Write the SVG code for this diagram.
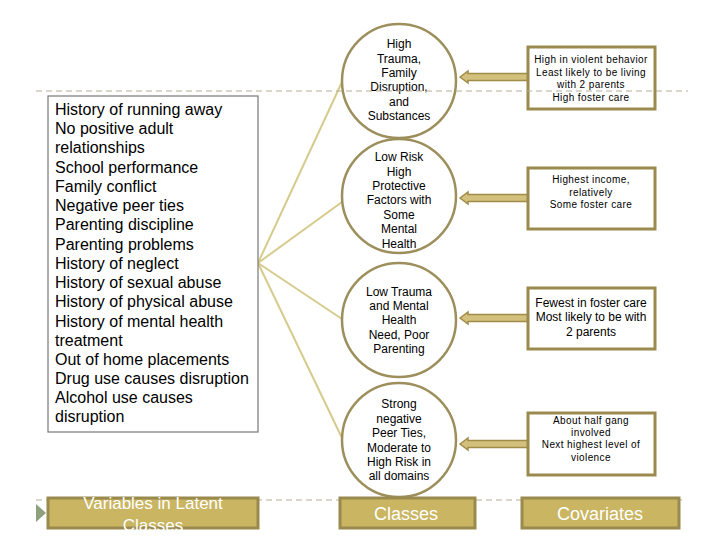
<svg xmlns="http://www.w3.org/2000/svg" width="720" height="540" viewBox="0 0 720 540">
<style>
text{font-family:"Liberation Sans",Arial,sans-serif;}
.dash{stroke:#B5AE98;stroke-width:1.2;stroke-dasharray:6 4;fill:none}
.circ{fill:#fff;stroke:#9C8F5C;stroke-width:2.5}
.ct{font-size:12px;fill:#000;text-anchor:middle}
.box{fill:#fff;stroke:#9B8A4E;stroke-width:3}
.bt{font-size:10px;fill:#000;text-anchor:middle;letter-spacing:0.4px}
.bt12{font-size:12px;fill:#000;text-anchor:middle}
.conn{stroke:#D6CB8C;stroke-width:2;fill:none}
.arr{fill:#D2C07C;stroke:#A08C48;stroke-width:1.5}
.btn{fill:#C9B562;stroke:#9A8A4E;stroke-width:3}
.btnt{font-size:18px;fill:#fff;text-anchor:middle}
.btnt2{font-size:17px;fill:#fff;text-anchor:middle}
.lt{font-size:16px;fill:#000}
</style>
<rect width="720" height="540" fill="#fff"/>
<line class="dash" x1="36" y1="500" x2="686" y2="500"/>

<g id="connectors">
<line class="conn" x1="258" y1="263" x2="342" y2="82"/>
<line class="conn" x1="258" y1="263" x2="342" y2="202"/>
<line class="conn" x1="258" y1="263" x2="342" y2="319"/>
<line class="conn" x1="258" y1="263" x2="342" y2="438"/>
<polygon class="arr" points="460,77 468,71 468,73.5 528,73.5 528,80.5 468,80.5 468,83"/>
<polygon class="arr" points="460,198 468,192 468,194.5 528,194.5 528,201.5 468,201.5 468,204"/>
<polygon class="arr" points="460,318 468,312 468,314.5 528,314.5 528,321.5 468,321.5 468,324"/>
<polygon class="arr" points="460,444 468,438 468,440.5 528,440.5 528,447.5 468,447.5 468,450"/>
</g>

<g id="variables">
<rect x="48" y="96" width="210" height="336" fill="#fff" stroke="#777" stroke-width="1.2"/>
<text class="lt" x="55" y="115">History of running away</text>
<text class="lt" x="55" y="134">No positive adult</text>
<text class="lt" x="55" y="153">relationships</text>
<text class="lt" x="55" y="173">School performance</text>
<text class="lt" x="55" y="192">Family conflict</text>
<text class="lt" x="55" y="211">Negative peer ties</text>
<text class="lt" x="55" y="230">Parenting discipline</text>
<text class="lt" x="55" y="250">Parenting problems</text>
<text class="lt" x="55" y="269">History of neglect</text>
<text class="lt" x="55" y="288">History of sexual abuse</text>
<text class="lt" x="55" y="307">History of physical abuse</text>
<text class="lt" x="55" y="327">History of mental health</text>
<text class="lt" x="55" y="346">treatment</text>
<text class="lt" x="55" y="365">Out of home placements</text>
<text class="lt" x="55" y="384">Drug use causes disruption</text>
<text class="lt" x="55" y="403">Alcohol use causes</text>
<text class="lt" x="55" y="422">disruption</text>
</g>

<g id="class1">
<circle class="circ" cx="399" cy="81" r="57"/>
<text class="ct" x="399" y="48">High</text>
<text class="ct" x="399" y="63">Trauma,</text>
<text class="ct" x="399" y="77">Family</text>
<text class="ct" x="399" y="91">Disruption,</text>
<text class="ct" x="399" y="106">and</text>
<text class="ct" x="399" y="120">Substances</text>
</g>
<g id="class2">
<circle class="circ" cx="399" cy="196" r="57"/>
<text class="ct" x="399" y="161">Low Risk</text>
<text class="ct" x="399" y="176">High</text>
<text class="ct" x="399" y="190">Protective</text>
<text class="ct" x="399" y="204">Factors with</text>
<text class="ct" x="399" y="219">Some</text>
<text class="ct" x="399" y="233">Mental</text>
<text class="ct" x="399" y="248">Health</text>
</g>
<g id="class3">
<circle class="circ" cx="399" cy="320" r="57"/>
<text class="ct" x="399" y="296">Low Trauma</text>
<text class="ct" x="399" y="310">and Mental</text>
<text class="ct" x="399" y="324">Health</text>
<text class="ct" x="399" y="339">Need, Poor</text>
<text class="ct" x="399" y="353">Parenting</text>
</g>
<g id="class4">
<circle class="circ" cx="399" cy="440" r="57"/>
<text class="ct" x="399" y="408">Strong</text>
<text class="ct" x="399" y="423">negative</text>
<text class="ct" x="399" y="437">Peer Ties,</text>
<text class="ct" x="399" y="452">Moderate to</text>
<text class="ct" x="399" y="466">High Risk in</text>
<text class="ct" x="399" y="480">all domains</text>
</g>

<g id="cov1">
<rect class="box" x="528" y="47" width="127" height="62"/>
<text class="bt" x="591" y="63">High in violent behavior</text>
<text class="bt" x="591" y="76">Least likely to be living</text>
<text class="bt" x="591" y="88">with 2 parents</text>
<text class="bt" x="591" y="101">High foster care</text>
</g>
<g id="cov2">
<rect class="box" x="528" y="168" width="127" height="61"/>
<text class="bt" x="591" y="183">Highest income,</text>
<text class="bt" x="591" y="196">relatively</text>
<text class="bt" x="591" y="208">Some foster care</text>
</g>
<g id="cov3">
<rect class="box" x="528" y="288" width="127" height="61"/>
<text class="bt12" x="591" y="307">Fewest in foster care</text>
<text class="bt12" x="591" y="321">Most likely to be with</text>
<text class="bt12" x="591" y="336">2 parents</text>
</g>
<g id="cov4">
<rect class="box" x="528" y="413" width="127" height="62"/>
<text class="bt" x="591" y="424">About half gang</text>
<text class="bt" x="591" y="436">involved</text>
<text class="bt" x="591" y="448">Next highest level of</text>
<text class="bt" x="591" y="461">violence</text>
</g>

<line class="dash" x1="36" y1="91" x2="688" y2="91"/>

<g id="label-variables">
<polygon points="36,504 46,513 36,522" fill="#8FA07C"/>
<rect class="btn" x="48" y="498" width="210" height="30"/>
<text class="btnt2" x="153" y="509">Variables in Latent</text>
<text class="btnt2" x="153" y="531">Classes</text>
</g>
<g id="label-classes">
<rect class="btn" x="340" y="498" width="135" height="30"/>
<text class="btnt" x="406" y="520">Classes</text>
</g>
<g id="label-covariates">
<rect class="btn" x="522" y="498" width="157" height="30"/>
<text class="btnt" x="600" y="520">Covariates</text>
</g>
</svg>
